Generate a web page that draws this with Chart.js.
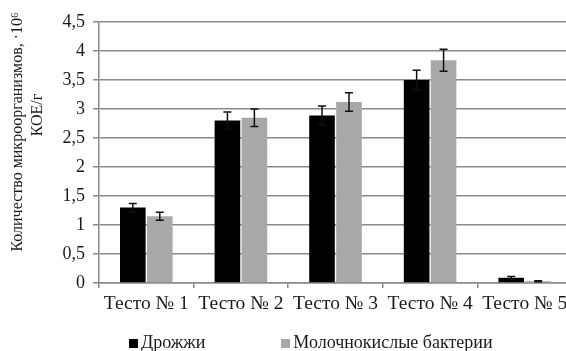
<!DOCTYPE html>
<html>
<head>
<meta charset="utf-8">
<script src="https://cdn.jsdelivr.net/npm/chart.js@4/dist/chart.umd.min.js"></script>
<style>
    html, body { margin: 0; padding: 0; background: #fff; overflow: hidden; }
    #wrap { position: relative; width: 576px; height: 351px; }
    #legend {
        position: absolute; left: 129px; top: 332px;
        font-family: "Liberation Serif", serif; font-size: 18px; color: #1a1a1a;
        white-space: nowrap; line-height: 20px;
    }
    #legend .item { display: inline-block; margin-right: 76px; }
    #legend .box { display: inline-block; width: 9px; height: 9px; margin-right: 3px; vertical-align: 0px; }
</style>
</head>
<body>
<div id="wrap">
    <canvas id="microChart" width="576" height="351"></canvas>
    <div id="legend"></div>
</div>
<script>
// Data
const categories = ['Тесто № 1', 'Тесто № 2', 'Тесто № 3', 'Тесто № 4', 'Тесто № 5'];
const yeastValues = [1.30, 2.80, 2.89, 3.50, 0.09];
const yeastErrors = [0.07, 0.15, 0.16, 0.17, 0.02];
const lacticValues = [1.15, 2.85, 3.12, 3.84, 0.03];
const lacticErrors = [0.07, 0.15, 0.16, 0.19, 0.01];
const yTickLabels = ['0', '0,5', '1', '1,5', '2', '2,5', '3', '3,5', '4', '4,5'];
const seriesNames = ['Дрожжи', 'Молочнокислые бактерии'];

const serif = '"Liberation Serif", "Times New Roman", serif';

// error bars drawn from the y scale
const errorBars = {
    id: 'errorBars',
    afterDatasetsDraw(chart) {
        const ctx = chart.ctx;
        const y = chart.scales.y;
        ctx.save();
        ctx.strokeStyle = '#111';
        ctx.lineWidth = 1.5;
        chart.data.datasets.forEach((ds, di) => {
            const meta = chart.getDatasetMeta(di);
            meta.data.forEach((bar, i) => {
                const v = ds.data[i], e = ds.errors[i];
                const top = y.getPixelForValue(v + e);
                const bot = y.getPixelForValue(v - e);
                ctx.beginPath();
                ctx.moveTo(bar.x, top); ctx.lineTo(bar.x, bot);
                ctx.moveTo(bar.x - 4, top); ctx.lineTo(bar.x + 4, top);
                ctx.moveTo(bar.x - 4, bot); ctx.lineTo(bar.x + 4, bot);
                ctx.stroke();
            });
        });
        ctx.restore();
    }
};

// two-line rotated axis title
const yTitle = {
    id: 'yTitle',
    afterDraw(chart) {
        const ctx = chart.ctx;
        const lines = [
            { text: 'Количество микроорганизмов, ·10⁶', x: 18, y: 132 },
            { text: 'КОЕ/г', x: 38, y: 115 }
        ];
        lines.forEach(l => {
            ctx.save();
            ctx.fillStyle = '#1a1a1a';
            ctx.font = '16px ' + serif;
            ctx.textAlign = 'center';
            ctx.textBaseline = 'middle';
            ctx.translate(l.x, l.y);
            ctx.rotate(-Math.PI / 2);
            ctx.fillText(l.text, 0, 0);
            ctx.restore();
        });
    }
};

const chart = new Chart(document.getElementById('microChart').getContext('2d'), {
    type: 'bar',
    data: {
        labels: categories,
        datasets: [
            {
                label: seriesNames[0],
                data: yeastValues,
                errors: yeastErrors,
                backgroundColor: '#000000',
                borderWidth: 0,
                categoryPercentage: 0.57,
                barPercentage: 0.95
            },
            {
                label: seriesNames[1],
                data: lacticValues,
                errors: lacticErrors,
                backgroundColor: '#a8a8a8',
                borderWidth: 0,
                categoryPercentage: 0.57,
                barPercentage: 0.95
            }
        ]
    },
    options: {
        responsive: false,
        animation: false,
        layout: { padding: { top: 22, right: 4, left: 0, bottom: 0 } },
        plugins: {
            legend: { display: false },
            title: { display: false },
            tooltip: { enabled: false }
        },
        scales: {
            y: {
                min: 0,
                max: 4.5,
                ticks: {
                    stepSize: 0.5,
                    padding: 8,
                    color: '#1a1a1a',
                    font: { family: serif, size: 18 },
                    callback: (v, i) => yTickLabels[i]
                },
                grid: { color: '#8a8a8a', lineWidth: 1.5, tickLength: 6, tickColor: '#8a8a8a' },
                border: { color: '#8a8a8a', width: 1.5 },
                afterFit: (scale) => { scale.width = 99; }
            },
            x: {
                ticks: {
                    padding: 4,
                    color: '#1a1a1a',
                    font: { family: serif, size: 19.5 },
                    maxRotation: 0
                },
                grid: { drawOnChartArea: false, tickLength: 5, color: '#8a8a8a', lineWidth: 1.5 },
                border: { color: '#8a8a8a', width: 1.5 },
                afterFit: (scale) => { scale.height = 68; }
            }
        }
    },
    plugins: [errorBars, yTitle]
});

// legend built from the datasets
const legendEl = document.getElementById('legend');
chart.data.datasets.forEach(ds => {
    const item = document.createElement('span');
    item.className = 'item';
    const box = document.createElement('span');
    box.className = 'box';
    box.style.background = ds.backgroundColor;
    item.appendChild(box);
    item.appendChild(document.createTextNode(ds.label));
    legendEl.appendChild(item);
});
</script>
</body>
</html>
